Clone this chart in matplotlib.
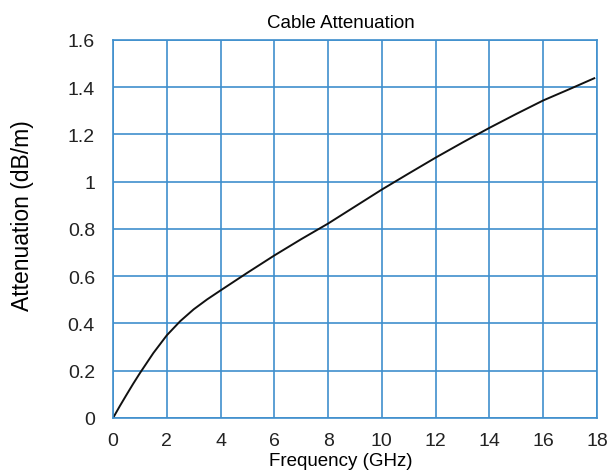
import matplotlib
matplotlib.use("Agg")
import matplotlib.pyplot as plt

# values
freq_ghz = [0, 0.25, 0.5, 0.75, 1, 1.5, 2, 2.5, 3, 3.5, 4, 5, 6, 7, 8, 9,
            10, 11, 12, 13, 14, 15, 16, 17, 17.9]
atten_db_m = [0, 0.05, 0.098, 0.145, 0.19, 0.275, 0.35, 0.41, 0.46, 0.502, 0.54,
              0.615, 0.688, 0.757, 0.823, 0.895, 0.967, 1.035, 1.102, 1.166,
              1.228, 1.287, 1.344, 1.393, 1.438]

x_ticks = [0, 2, 4, 6, 8, 10, 12, 14, 16, 18]
y_ticks = [0, 0.2, 0.4, 0.6, 0.8, 1.0, 1.2, 1.4, 1.6]
y_tick_labels = ["0", "0.2", "0.4", "0.6", "0.8", "1", "1.2", "1.4", "1.6"]

grid_color = "#3f8fcd"

plt.rcParams["font.family"] = ["Liberation Sans", "DejaVu Sans"]

fig = plt.figure(figsize=(6.11, 4.77), dpi=100)
ax = fig.add_axes([0.185, 0.1216, 0.792, 0.7925])

ax.plot(freq_ghz, atten_db_m, color="#111111", linewidth=1.4)

ax.set_xlim(0, 18)
ax.set_ylim(0, 1.6)
ax.set_xticks(x_ticks)
ax.set_yticks(y_ticks)
ax.set_yticklabels(y_tick_labels)
ax.grid(True, color=grid_color, linewidth=1.2)
ax.set_axisbelow(True)
for spine in ax.spines.values():
    spine.set_color(grid_color)
    spine.set_linewidth(1.2)

ax.tick_params(axis="both", length=0, labelsize=14, colors="#222222")
ax.tick_params(axis="x", pad=10)
ax.tick_params(axis="y", pad=13)

ax.set_title("Cable Attenuation", fontsize=13.5, pad=9, x=0.471)
ax.set_xlabel("Frequency (GHz)", fontsize=13.5, labelpad=2)
ax.xaxis.set_label_coords(0.471, -0.09)
ax.xaxis.label.set_va("top")
ax.set_ylabel("Attenuation (dB/m)", fontsize=16.5)
ax.yaxis.set_label_coords(-0.164, 0.537)

fig.savefig("out.png", dpi=100)
